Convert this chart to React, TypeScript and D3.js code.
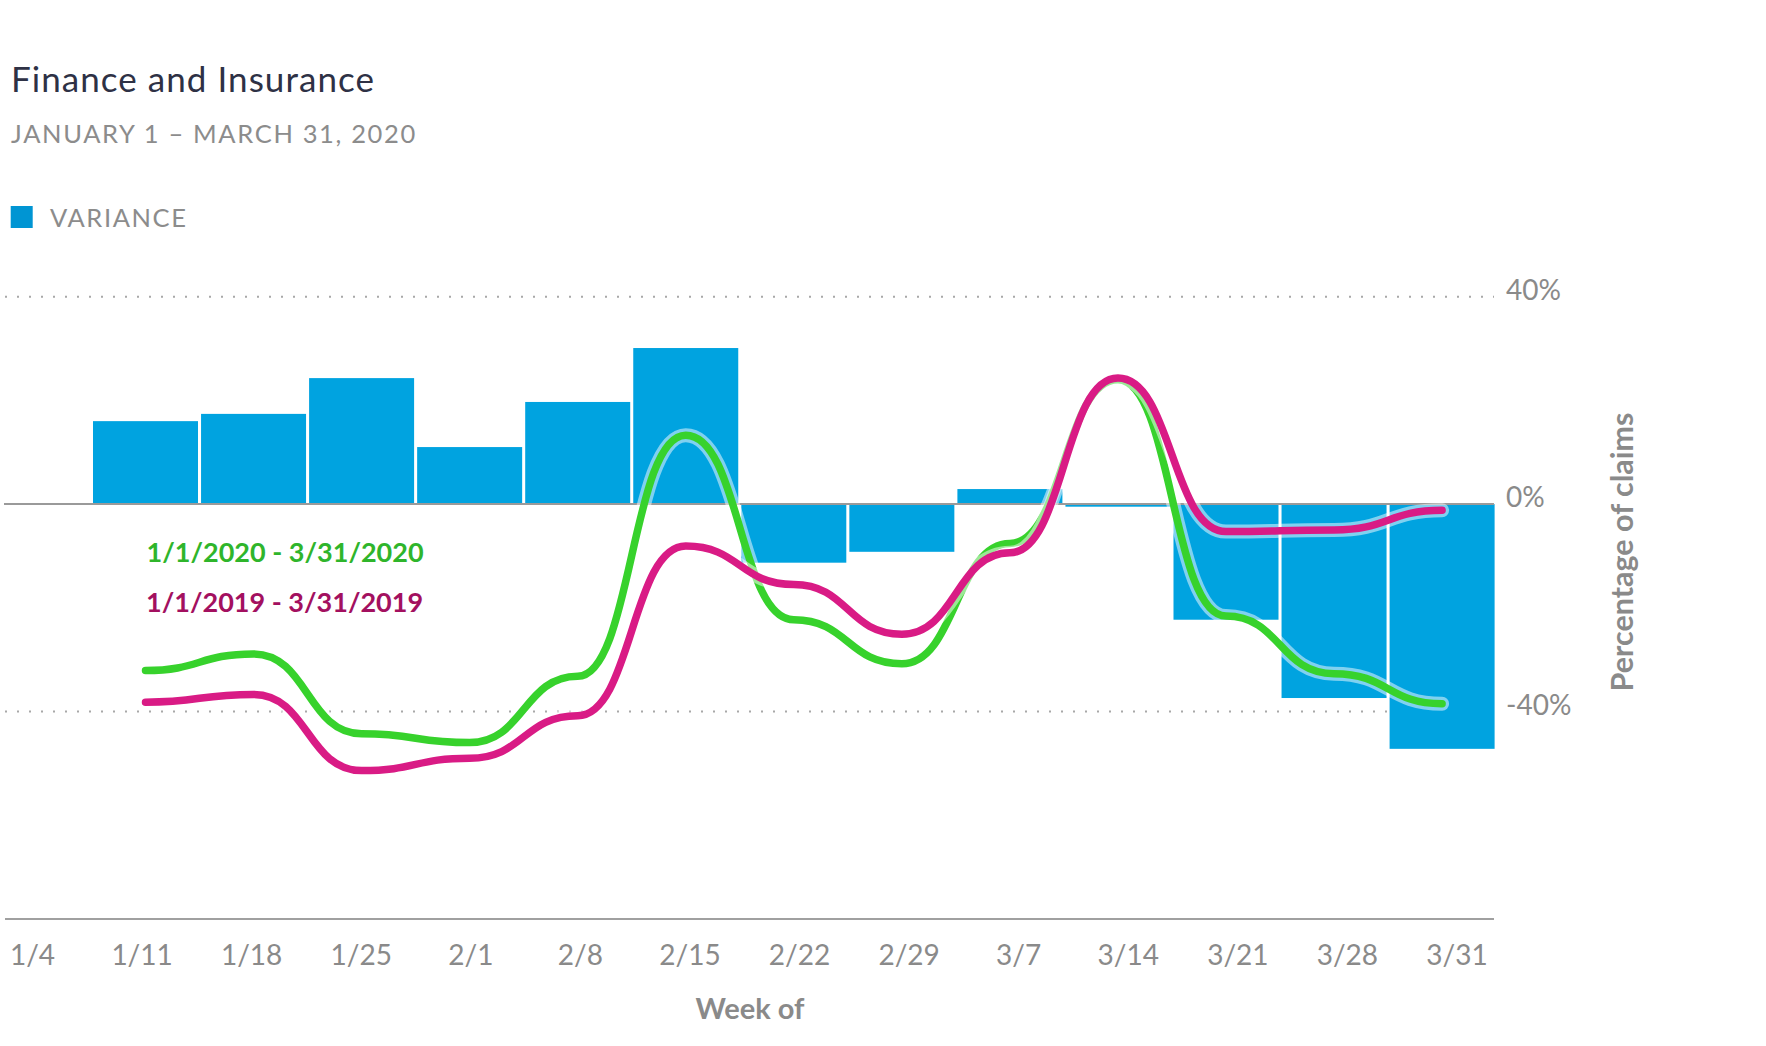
import React from "react";
import * as d3 from "d3";

const weeks = ["1/4", "1/11", "1/18", "1/25", "2/1", "2/8", "2/15", "2/22", "2/29", "3/7", "3/14", "3/21", "3/28", "3/31"];
const variance: (number | null)[] = [null, 16.0, 17.4, 24.3, 11.0, 19.7, 30.1, -11.3, -9.2, 2.9, -0.5, -22.3, -37.4, -47.2];
const claims2020: (number | null)[] = [null, -32.1, -28.9, -44.3, -46.0, -33.2, 13.3, -22.3, -30.8, -7.6, 24.0, -21.6, -32.7, -38.5];
const claims2019: (number | null)[] = [null, -38.2, -36.7, -51.4, -49.0, -40.8, -8.1, -15.5, -25.1, -9.4, 24.3, -5.3, -5.0, -1.2];
const yTicks = [40, 0, -40];
const yTickLabels = ["40%", "0%", "-40%"];

const W = 1766;
const H = 1046;
const FONT = "Lato, 'Open Sans', sans-serif";

export default function App() {
  const x = d3.scaleBand<string>().domain(weeks).range([-15.05, 1494.6]).paddingInner(0.0282).paddingOuter(0);
  const xLabel = d3.scalePoint<string>().domain(weeks).range([32.5, 1457]);
  const y = d3.scaleLinear().domain([-80, 40]).range([918.9, 296.7]);
  const cx = (i: number) => (x(weeks[i]) as number) + x.bandwidth() / 2;

  const line = d3
    .line<number | null>()
    .defined((d) => d != null)
    .x((_, i) => cx(i))
    .y((d) => y(d as number))
    .curve(d3.curveBumpX);

  const left = 5;
  const right = 1494;

  return (
    <svg width={W} height={H} style={{ position: "absolute", left: 0, top: 0, background: "#fff" }} fontFamily={FONT}>
      <text x={11} y={91.7} fontSize={35} fill="#2e3145" letterSpacing={1.05}>Finance and Insurance</text>
      <text x={11} y={142.7} fontSize={25.5} fill="#8c8c8c" letterSpacing={1.65}>JANUARY 1 – MARCH 31, 2020</text>
      <rect x={10.7} y={206} width={22} height={22} fill="#0095d3" />
      <text x={50} y={226.7} fontSize={25.5} fill="#8c8c8c" letterSpacing={1.6}>VARIANCE</text>

      {yTicks.filter((t) => t !== 0).map((t) => (
        <line key={t} x1={left} x2={right} y1={y(t)} y2={y(t)} stroke="#a8a8a8" strokeWidth={2} strokeDasharray="2 10" />
      ))}

      {variance.map((v, i) =>
        v == null ? null : (
          <rect
            key={weeks[i]}
            x={x(weeks[i])}
            width={x.bandwidth()}
            y={y(Math.max(0, v))}
            height={Math.abs(y(v) - y(0))}
            fill="#00a3e0"
          />
        )
      )}

      <line x1={4} x2={right} y1={y(0)} y2={y(0)} stroke="#9a9a9a" strokeWidth={2} />
      <line x1={left} x2={right} y1={y(-80)} y2={y(-80)} stroke="#a0a0a0" strokeWidth={2} />

      <path d={line(claims2020) || ""} fill="none" stroke="rgba(255,255,255,0.5)" strokeWidth={14} strokeLinecap="round" strokeLinejoin="round" />
      <path d={line(claims2020) || ""} fill="none" stroke="#37d22c" strokeWidth={7.5} strokeLinecap="round" strokeLinejoin="round" />
      <path d={line(claims2019) || ""} fill="none" stroke="rgba(255,255,255,0.5)" strokeWidth={14} strokeLinecap="round" strokeLinejoin="round" />
      <path d={line(claims2019) || ""} fill="none" stroke="#d91b85" strokeWidth={7.5} strokeLinecap="round" strokeLinejoin="round" />

      <text x={146.5} y={562.3} fontSize={27} fontWeight={700} fill="#2fb52b">1/1/2020 - 3/31/2020</text>
      <text x={146} y={612.3} fontSize={27} fontWeight={700} fill="#a3105f">1/1/2019 - 3/31/2019</text>

      {yTicks.map((t, i) => (
        <text key={t} x={1506} y={y(t) + 3} fontSize={28} fill="#8a8a8a">{yTickLabels[i]}</text>
      ))}

      {weeks.map((w) => (
        <text key={w} x={xLabel(w)} y={965} fontSize={28} fill="#8a8a8a" textAnchor="middle">{w}</text>
      ))}

      <text x={750} y={1019} fontSize={29} fontWeight={700} fill="#8a8a8a" textAnchor="middle">Week of</text>
      <text transform="translate(1633,552) rotate(-90)" fontSize={30.5} fontWeight={700} fill="#8a8a8a" textAnchor="middle">Percentage of claims</text>
    </svg>
  );
}
